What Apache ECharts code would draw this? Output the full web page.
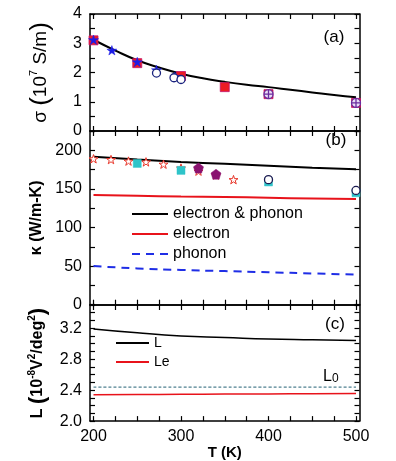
<!DOCTYPE html>
<html>
<head>
<meta charset="utf-8">
<script src="https://cdn.jsdelivr.net/npm/echarts@6/dist/echarts.min.js"></script>
<style>
  html, body { margin: 0; padding: 0; background: #fff; }
  #chart { width: 396px; height: 461px; }
</style>
</head>
<body>
<div id="chart"></div>
<script>
// ---------- data ----------
var T_TICKS  = [200, 225, 250, 275, 300, 325, 350, 375, 400, 425, 450, 475, 500];
var T_LABELS = [200, 300, 400, 500];

// (a) sigma, 10^7 S/m
var SIG_TICKS  = [0, 0.5, 1, 1.5, 2, 2.5, 3, 3.5, 4];
var SIG_LABELS = [0, 1, 2, 3, 4];
var sigCurveT  = [200, 225, 250, 275, 300, 325, 350, 375, 400, 425, 450, 475, 500];
var sigCurve   = [3.12, 2.75, 2.42, 2.17, 1.96, 1.80, 1.68, 1.58, 1.50, 1.41, 1.32, 1.23, 1.15];
var sigSquareT = [200, 250, 300, 350, 400, 500];
var sigSquare  = [3.10, 2.32, 1.88, 1.50, 1.26, 0.96];
var sigStarT   = [200, 221, 250, 272, 293];
var sigStar    = [3.12, 2.76, 2.36, 2.09, 1.86];
var sigCircT   = [272, 292, 300];
var sigCirc    = [1.98, 1.82, 1.76];
var sigCrossT  = [400, 500];
var sigCross   = [1.26, 0.96];

// (b) kappa, W/m-K
var KAP_TICKS  = [0, 25, 50, 75, 100, 125, 150, 175, 200, 225];
var KAP_LABELS = [0, 50, 100, 150, 200];
var kapLineT   = [200, 250, 300, 350, 400, 450, 500];
var kapTotal   = [191.5, 188, 185, 182.5, 180, 177.5, 175.5];
var kapElec    = [142, 141, 140, 139.5, 138.5, 137.5, 137];
var kapPhon    = [50, 47, 45, 43.5, 42, 40.5, 39];
var kapStarT   = [200, 220, 240, 260, 280, 300, 320, 340, 360];
var kapStar    = [189, 188, 186, 185, 182, 177, 173, 168, 162];
var kapCyanT   = [250, 300, 400, 500];
var kapCyan    = [183, 174, 159, 145];
var kapPentT   = [320, 340];
var kapPent    = [177, 169];
var kapCircT   = [400, 500];
var kapCirc    = [162, 148];

// (c) Lorenz number, 10^-8 V^2/deg^2
var LOR_TICKS  = [2.0, 2.1, 2.2, 2.3, 2.4, 2.5, 2.6, 2.7, 2.8, 2.9, 3.0, 3.1, 3.2, 3.3, 3.4, 3.5];
var LOR_LABELS = [2.0, 2.4, 2.8, 3.2];
var lorT       = [200, 250, 300, 350, 400, 450, 500];
var lorL       = [3.19, 3.14, 3.10, 3.08, 3.06, 3.05, 3.04];
var lorLe      = [2.340, 2.343, 2.346, 2.349, 2.351, 2.353, 2.355];
var lorL0      = [2.44, 2.44, 2.44, 2.44, 2.44, 2.44, 2.44];

// ---------- helpers ----------
var FONT = 'Liberation Sans, Arial, sans-serif';
var STAR = 'path://M50,2 L61.2,36.2 L97.6,36.2 L68.2,57.4 L79.4,91.6 L50,70.4 L20.6,91.6 L31.8,57.4 L2.4,36.2 L38.8,36.2 Z';
var PENT = 'path://M50,0 L100,38 L81,100 L19,100 L0,38 Z';
var CROSSCIRC = 'path://M50,4 A46,46 0 1,1 49.99,4 Z M50,4 L50,96 M4,50 L96,50';

function zip(xs, ys) {
  return xs.map(function (x, i) { return [x, ys[i]]; });
}

var GL = 90, GW = 269.5;

function xAx(grid, pos, labels) {
  return {
    type: 'value', gridIndex: grid, position: pos, min: 196, max: 504,
    axisLine: { show: true, onZero: false, lineStyle: { color: '#000', width: 1.5 } },
    axisTick: { inside: true, length: 5, customValues: T_TICKS, lineStyle: { color: '#000', width: 1.2 } },
    axisLabel: { show: labels, customValues: T_LABELS, margin: 7, color: '#000', fontSize: 16, fontFamily: FONT },
    splitLine: { show: false }
  };
}

function yAx(grid, pos, min, max, ticks, labels, fmt) {
  return {
    type: 'value', gridIndex: grid, position: pos, min: min, max: max,
    axisLine: { show: true, onZero: false, lineStyle: { color: '#000', width: 1.5 } },
    axisTick: { inside: true, length: 5, customValues: ticks, lineStyle: { color: '#000', width: 1.2 } },
    axisLabel: { show: pos === 'left', customValues: labels, margin: 8, color: '#000', fontSize: 16, fontFamily: FONT, formatter: fmt },
    splitLine: { show: false }
  };
}

var xAxes = [
  xAx(0, 'bottom', false), xAx(0, 'top', false),
  xAx(1, 'bottom', false), xAx(1, 'top', false),
  xAx(2, 'bottom', true),  xAx(2, 'top', false)
];
xAxes[4].name = 'T (K)';
xAxes[4].nameLocation = 'middle';
xAxes[4].nameGap = 20;
xAxes[4].nameTextStyle = { fontSize: 15, fontWeight: 'bold', color: '#000', fontFamily: FONT };

var yAxes = [
  yAx(0, 'left', 0, 4, SIG_TICKS, SIG_LABELS, function (v) { return String(v); }),
  yAx(0, 'right', 0, 4, SIG_TICKS, SIG_LABELS),
  yAx(1, 'left', 0, 225, KAP_TICKS, KAP_LABELS, function (v) { return String(v); }),
  yAx(1, 'right', 0, 225, KAP_TICKS, KAP_LABELS),
  yAx(2, 'left', 2.0, 3.5, LOR_TICKS, LOR_LABELS, function (v) { return v.toFixed(1); }),
  yAx(2, 'right', 2.0, 3.5, LOR_TICKS, LOR_LABELS)
];

yAxes[0].name = '{t|σ }{p|(}{t|10}{s|7}{t| S/m}{p|)}';
yAxes[0].nameLocation = 'middle';
yAxes[0].nameRotate = 90;
yAxes[0].nameGap = 36;
yAxes[0].nameTextStyle = {
  color: '#000', fontFamily: FONT,
  rich: {
    t: { fontSize: 19, color: '#000', fontFamily: FONT },
    p: { fontSize: 26, color: '#000', fontFamily: FONT },
    s: { fontSize: 11, color: '#000', fontFamily: FONT, verticalAlign: 'top' }
  }
};

yAxes[2].name = 'κ (W/m-K)';
yAxes[2].nameLocation = 'middle';
yAxes[2].nameRotate = 90;
yAxes[2].nameGap = 42;
yAxes[2].nameTextStyle = { fontSize: 16, fontWeight: 'bold', color: '#000', fontFamily: FONT };

yAxes[4].name = '{t|L }{p|(}{t|10}{s|-8}{t|V}{s|2}{t|/deg}{s|2}{p|)}';
yAxes[4].nameLocation = 'middle';
yAxes[4].nameRotate = 90;
yAxes[4].nameGap = 40;
yAxes[4].nameTextStyle = {
  color: '#000', fontFamily: FONT,
  rich: {
    t: { fontSize: 16, fontWeight: 'bold', color: '#000', fontFamily: FONT },
    p: { fontSize: 22, fontWeight: 'bold', color: '#000', fontFamily: FONT },
    s: { fontSize: 10, fontWeight: 'bold', color: '#000', fontFamily: FONT, verticalAlign: 'top' }
  }
};

function lineS(name, xi, yi, data, color, width, type) {
  return {
    name: name, type: 'line', xAxisIndex: xi, yAxisIndex: yi, data: data,
    smooth: true, symbol: 'none', silent: true, z: 2,
    lineStyle: { color: color, width: width, type: type || 'solid' },
    itemStyle: { color: color }
  };
}

function dotS(xi, yi, data, symbol, size, fill, stroke, bw, z) {
  return {
    type: 'scatter', xAxisIndex: xi, yAxisIndex: yi, data: data,
    symbol: symbol, symbolSize: size, symbolKeepAspect: true, silent: true, z: z,
    itemStyle: { color: fill, borderColor: stroke, borderWidth: bw, opacity: 1 }
  };
}

var series = [
  // (a)
  lineS('sigma', 0, 0, zip(sigCurveT, sigCurve), '#000', 2),
  dotS(0, 0, zip(sigSquareT, sigSquare), 'rect', 9, '#ec1c24', '#c4126a', 0.8, 3),
  dotS(0, 0, zip(sigStarT, sigStar), STAR, 10, '#1c1ce6', '#1c1ce6', 0.5, 4),
  dotS(0, 0, zip(sigCircT, sigCirc), 'circle', 8, '#fff', '#1a237e', 1.3, 5),
  dotS(0, 0, zip(sigCrossT, sigCross), CROSSCIRC, 9, '#e9dcf3', '#6a2ca0', 1.3, 6),
  // (b)
  lineS('electron & phonon', 2, 2, zip(kapLineT, kapTotal), '#000', 2),
  lineS('electron', 2, 2, zip(kapLineT, kapElec), '#e8131b', 2),
  lineS('phonon', 2, 2, zip(kapLineT, kapPhon), '#1f2ee6', 2, [8, 6]),
  dotS(2, 2, zip(kapStarT, kapStar), STAR, 9, '#fff', '#e8382c', 1, 3),
  dotS(2, 2, zip(kapCyanT, kapCyan), 'rect', 8, '#2ec4c9', '#2ec4c9', 0.5, 4),
  dotS(2, 2, zip(kapPentT, kapPent), PENT, 10, '#8a1270', '#8a1270', 0.5, 5),
  dotS(2, 2, zip(kapCircT, kapCirc), 'circle', 8, '#fff', '#1a1a50', 1.3, 6),
  // (c)
  lineS('L', 4, 4, zip(lorT, lorL), '#000', 1.5),
  lineS('Le', 4, 4, zip(lorT, lorLe), '#e8131b', 1.5),
  lineS('L0', 4, 4, zip(lorT, lorL0), '#4f8090', 1.3, [3, 2])
];

var hiddenMark = { color: 'rgba(0,0,0,0)', borderColor: 'rgba(0,0,0,0)', borderWidth: 0, opacity: 0 };

var chart = echarts.init(document.getElementById('chart'), null, { renderer: 'canvas' });
chart.setOption({
  backgroundColor: '#fff',
  animation: false,
  grid: [
    { left: GL, width: GW, top: 14, height: 117 },
    { left: GL, width: GW, top: 131, height: 173.7 },
    { left: GL, width: GW, top: 305, height: 116.7 }
  ],
  xAxis: xAxes,
  yAxis: yAxes,
  legend: [
    {
      data: ['electron & phonon', 'electron', 'phonon'],
      orient: 'vertical', left: 126, top: 201, itemWidth: 36, itemHeight: 14, itemGap: 4,
      itemStyle: hiddenMark,
      textStyle: { fontSize: 16, color: '#000', fontFamily: FONT }, selectedMode: false
    },
    {
      data: ['L', 'Le'],
      orient: 'vertical', left: 110, top: 331, itemWidth: 33, itemHeight: 12, itemGap: 5,
      itemStyle: hiddenMark,
      textStyle: { fontSize: 14, color: '#000', fontFamily: FONT }, selectedMode: false
    }
  ],
  graphic: [
    { type: 'text', x: 334, y: 37.5, style: { text: '(a)', font: '17px ' + FONT, fill: '#000', textAlign: 'center', textVerticalAlign: 'middle' } },
    { type: 'text', x: 336, y: 140, style: { text: '(b)', font: '17px ' + FONT, fill: '#000', textAlign: 'center', textVerticalAlign: 'middle' } },
    { type: 'text', x: 335, y: 324, style: { text: '(c)', font: '17px ' + FONT, fill: '#000', textAlign: 'center', textVerticalAlign: 'middle' } },
    { type: 'text', x: 323, y: 377, style: {
        text: '{a|L}{b|0}', textAlign: 'left', textVerticalAlign: 'middle',
        rich: { a: { fontSize: 16, fontFamily: FONT, fill: '#000' }, b: { fontSize: 12, fontFamily: FONT, fill: '#000', verticalAlign: 'bottom' } }
    } }
  ],
  series: series
});
</script>
</body>
</html>
